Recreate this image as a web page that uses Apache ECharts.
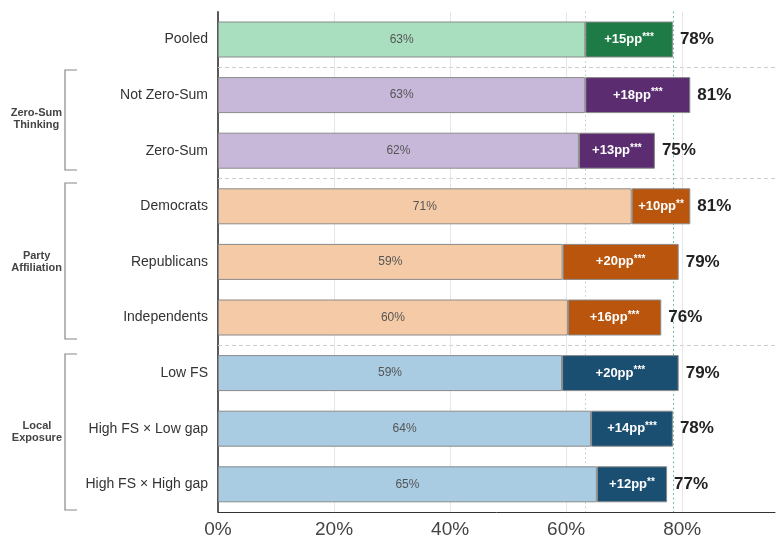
<!DOCTYPE html>
<html>
<head>
<meta charset="utf-8">
<script src="https://cdn.jsdelivr.net/npm/echarts@6/dist/echarts.min.js"></script>
<style>html,body{margin:0;padding:0;background:#fff}#c{width:778px;height:541px}</style>
</head>
<body>
<div id="c"></div>
<script>
const categories = ['Pooled','Not Zero-Sum','Zero-Sum','Democrats','Republicans','Independents','Low FS','High FS × Low gap','High FS × High gap'];
const baseline = [63.3, 63.3, 62.2, 71.3, 59.4, 60.3, 59.3, 64.3, 65.3];
const effect = [15.1, 18.1, 13.1, 10.1, 20.0, 16.1, 20.1, 14.1, 12.1];
const stars = ['***','***','***','**','***','***','***','***','**'];
const groupOf = [0, 1, 1, 2, 2, 2, 3, 3, 3];
const groupNames = ['', 'Zero-Sum\nThinking', 'Party\nAffiliation', 'Local\nExposure'];
const xTicks = [0, 20, 40, 60, 80];

const lightColors = ['#a9dfbf', '#c7b8da', '#f5cba7', '#a9cce3'];
const darkColors = ['#1e7b45', '#5b2c6f', '#b9550c', '#1b4f72'];

const totals = baseline.map((b, i) => b + effect[i]);
const separators = [];
for (let i = 0; i < groupOf.length - 1; i++) if (groupOf[i] !== groupOf[i + 1]) separators.push(i + 0.5);

const FONT = '"Liberation Sans", Arial, sans-serif';
const chart = echarts.init(document.getElementById('c'), null, {renderer: 'canvas'});

chart.setOption({
  animation: false,
  grid: {left: 218, right: 3, top: 11.7, bottom: 28.9, containLabel: false},
  xAxis: {
    type: 'value', min: 0, max: 96, interval: 20,
    axisLine: {show: true, onZero: false, lineStyle: {color: '#333', width: 1}},
    axisTick: {show: false},
    splitLine: {show: false},
    axisLabel: {formatter: '{value}%', fontSize: 19, color: '#444', fontFamily: FONT, margin: 8, showMaxLabel: false}
  },
  yAxis: [{
    type: 'category', data: categories, inverse: true,
    axisLine: {show: true, onZero: false, lineStyle: {color: '#222', width: 1.5}},
    axisTick: {show: false},
    axisLabel: {fontSize: 14, color: '#333', fontFamily: FONT, margin: 10}
  }, {
    type: 'value', min: -0.5, max: 8.5, inverse: true, show: false
  }],
  series: [
    {
      type: 'scatter', xAxisIndex: 0, yAxisIndex: 1, data: [], z: 0, silent: true, symbolSize: 0,
      markLine: {
        silent: true, symbol: 'none', label: {show: false}, z: 1, animation: false,
        data: separators.map(s => ({yAxis: s, lineStyle: {color: '#cccccc', type: [4, 3], width: 1}}))
          .concat(xTicks.filter(t => t > 0).map(t => ({xAxis: t, lineStyle: {color: '#e6e6e6', type: 'solid', width: 1}})))
          .concat([
            {xAxis: baseline[0], lineStyle: {color: '#bcc8c2', type: [1.5, 3], width: 1}},
            {xAxis: totals[0], lineStyle: {color: '#4db380', type: [1.5, 3], width: 1}}
          ])
      }
    },
    {
      name: 'base', type: 'bar', stack: 's', barWidth: 36, z: 3,
      data: baseline.map((v, i) => ({
        value: v,
        itemStyle: {color: lightColors[groupOf[i]], borderColor: '#8a8a8a', borderWidth: 1}
      })),
      label: {
        show: true, position: 'inside', fontSize: 12, color: '#555', fontFamily: FONT,
        formatter: p => Math.round(p.value) + '%'
      }
    },
    {
      name: 'effect', type: 'bar', stack: 's', barWidth: 36, z: 3,
      data: effect.map((v, i) => ({
        value: v,
        itemStyle: {color: darkColors[groupOf[i]], borderColor: '#8a8a8a', borderWidth: 1}
      })),
      label: {
        show: true, position: 'inside', fontFamily: FONT,
        formatter: p => '{a|+' + Math.round(p.value) + 'pp}{s|' + stars[p.dataIndex] + '}',
        rich: {
          a: {fontSize: 13, fontWeight: 'bold', color: '#fff', fontFamily: FONT},
          s: {fontSize: 10, fontWeight: 'bold', color: '#fff', fontFamily: FONT, verticalAlign: 'top', padding: [0, 0, 5, 0]}
        }
      }
    },
    {
      name: 'total', type: 'bar', barWidth: 36, barGap: '-100%', z: 2, silent: true,
      itemStyle: {color: 'rgba(0,0,0,0)'},
      data: totals,
      label: {
        show: true, position: 'right', distance: 7, fontSize: 17, fontWeight: 'bold', color: '#222', fontFamily: FONT,
        formatter: p => Math.round(p.value) + '%'
      }
    }
  ],
  graphic: [
    {type: 'polyline', shape: {points: [[77, 70], [65, 70], [65, 170], [77, 170]]}, style: {stroke: '#888', lineWidth: 1.2, fill: null}},
    {type: 'polyline', shape: {points: [[77, 183], [65, 183], [65, 339], [77, 339]]}, style: {stroke: '#888', lineWidth: 1.2, fill: null}},
    {type: 'polyline', shape: {points: [[77, 354], [65, 354], [65, 510], [77, 510]]}, style: {stroke: '#888', lineWidth: 1.2, fill: null}},
    {type: 'text', right: 778 - 62, top: 107, style: {text: groupNames[1], font: 'bold 11px ' + FONT, fill: '#444', textAlign: 'center', lineHeight: 12}},
    {type: 'text', right: 778 - 62, top: 250, style: {text: groupNames[2], font: 'bold 11px ' + FONT, fill: '#444', textAlign: 'center', lineHeight: 12}},
    {type: 'text', right: 778 - 62, top: 420, style: {text: groupNames[3], font: 'bold 11px ' + FONT, fill: '#444', textAlign: 'center', lineHeight: 12}}
  ]
});
</script>
</body>
</html>
